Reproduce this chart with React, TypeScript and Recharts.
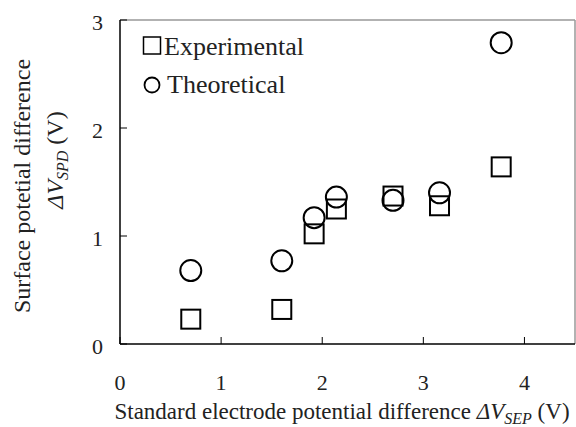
import { ScatterChart, Scatter, XAxis, YAxis, ReferenceLine, Legend } from "recharts";

const sepDiff = [0.7, 1.6, 1.92, 2.14, 2.7, 3.16, 3.77];
const experimental = [0.23, 0.32, 1.02, 1.25, 1.37, 1.28, 1.64];
const theoretical = [0.68, 0.77, 1.17, 1.36, 1.33, 1.4, 2.79];
const xTicks = [0, 1, 2, 3, 4];
const yTicks = [0, 1, 2, 3];

const FONT = '"Liberation Serif", "Times New Roman", serif';
const AXIS_Y = 344;
const AXIS_X = 120;

const expData = sepDiff.map((x, i) => ({ x, y: experimental[i] }));
const theoData = sepDiff.map((x, i) => ({ x, y: theoretical[i] }));

function SquareMark(props: any) {
  const { cx, cy } = props;
  return <rect x={cx - 9.5} y={cy - 9.5} width={19} height={19} fill="none" stroke="#000" strokeWidth={2} />;
}

function CircleMark(props: any) {
  const { cx, cy } = props;
  return <circle cx={cx} cy={cy} r={10.5} fill="none" stroke="#000" strokeWidth={2} />;
}

function XTick(props: any) {
  const { x, payload } = props;
  return (
    <g>
      <line x1={x} x2={x} y1={AXIS_Y} y2={AXIS_Y - 7} stroke="#000" strokeWidth={1} />
      <text x={x} y={390} textAnchor="middle" fontFamily={FONT} fontSize={22} fill="#222">
        {payload.value}
      </text>
    </g>
  );
}

function YTick(props: any) {
  const { y, payload } = props;
  return (
    <g>
      <line x1={AXIS_X} x2={AXIS_X + 7} y1={y} y2={y} stroke="#000" strokeWidth={1} />
      <text x={103} y={y + 10} textAnchor="end" fontFamily={FONT} fontSize={22} fill="#222">
        {payload.value}
      </text>
    </g>
  );
}

function YTitle() {
  return (
    <g fontFamily={FONT} fill="#222">
      <text transform="translate(30,186) rotate(-90)" textAnchor="middle" fontSize={24}>
        Surface potetial difference
      </text>
      <text transform="translate(63,160) rotate(-90)" textAnchor="middle" fontSize={24}>
        <tspan fontStyle="italic">ΔV</tspan>
        <tspan fontStyle="italic" fontSize={16} dy={5}>SPD</tspan>
        <tspan dy={-5}> (V)</tspan>
      </text>
    </g>
  );
}

function XTitle() {
  return (
    <text x={342} y={419} textAnchor="middle" fontFamily={FONT} fontSize={23} fill="#222">
      Standard electrode potential difference{" "}
      <tspan fontStyle="italic">ΔV</tspan>
      <tspan fontStyle="italic" fontSize={16} dy={5}>SEP</tspan>
      <tspan dy={-5}> (V)</tspan>
    </text>
  );
}

function LegendBox() {
  return (
    <svg width={576} height={110} style={{ display: "block" }}>
      <rect x={143.5} y={37} width={17} height={17} fill="none" stroke="#000" strokeWidth={1.5} />
      <text x={164} y={55} fontFamily={FONT} fontSize={26} fill="#222">Experimental</text>
      <circle cx={152} cy={85} r={7.5} fill="none" stroke="#000" strokeWidth={1.8} />
      <text x={167} y={93} fontFamily={FONT} fontSize={26} fill="#222">Theoretical</text>
    </svg>
  );
}

export default function App() {
  return (
    <div style={{ position: "absolute", left: 0, top: 0, background: "#fff" }}>
      <ScatterChart width={576} height={427} margin={{ top: 20, right: 1, left: 0, bottom: 0 }}>
        <XAxis
          type="number"
          dataKey="x"
          domain={[0, 4.5]}
          ticks={xTicks}
          height={83}
          axisLine={{ stroke: "#000", strokeWidth: 1.5 }}
          tickLine={false}
          tick={<XTick />}
          label={<XTitle />}
        />
        <YAxis
          type="number"
          dataKey="y"
          domain={[0, 3]}
          ticks={yTicks}
          width={120}
          axisLine={{ stroke: "#000", strokeWidth: 1.5 }}
          tickLine={false}
          tick={<YTick />}
          label={<YTitle />}
        />
        <ReferenceLine y={3} stroke="#999" strokeWidth={1.5} />
        <ReferenceLine x={4.5} stroke="#999" strokeWidth={1.5} />
        <Legend
          layout="vertical"
          align="center"
          verticalAlign="middle"
          content={() => <LegendBox />}
          wrapperStyle={{ left: 0, top: 0, width: 576, height: 110 }}
        />
        <Scatter name="Experimental" data={expData} shape={<SquareMark />} isAnimationActive={false} />
        <Scatter name="Theoretical" data={theoData} shape={<CircleMark />} isAnimationActive={false} />
      </ScatterChart>
    </div>
  );
}
